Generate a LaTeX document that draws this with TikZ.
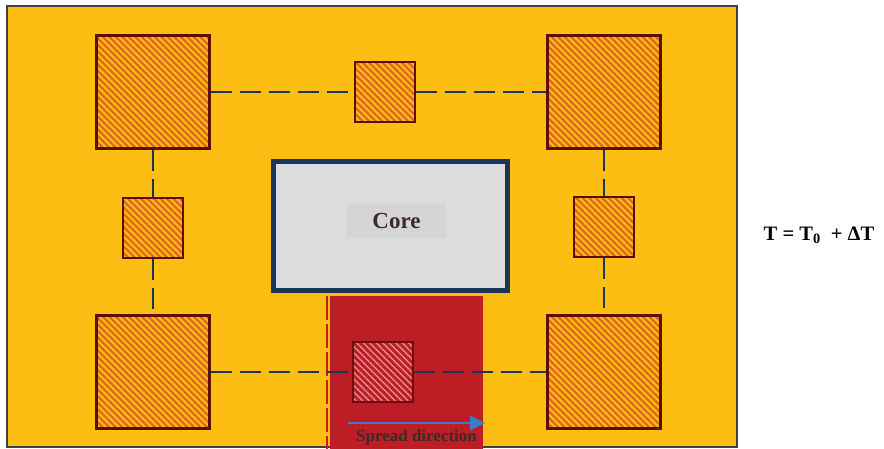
\documentclass[tikz,border=0pt]{standalone}
\usepackage{fontspec}
\setmainfont{Liberation Serif}
\usetikzlibrary{arrows.meta,patterns.meta}

\definecolor{boardyellow}{HTML}{FDBE14}
\definecolor{padedge}{HTML}{5E0F05}
\definecolor{padhatch}{HTML}{E0681E}
\definecolor{heatred}{HTML}{BD1E26}
\definecolor{hothatch}{HTML}{E68A8A}
\definecolor{hotedge}{HTML}{6E0E0E}
\definecolor{linknavy}{HTML}{1A3557}
\definecolor{corefill}{HTML}{DCDCDE}
\definecolor{labelfill}{HTML}{D5D5D7}
\definecolor{spreadblue}{HTML}{3B7DC4}
\definecolor{textdark}{HTML}{3A2A2A}

\tikzset{
    board/.style={
           rectangle,
           draw=black!75, line width=1.8pt,
           fill=boardyellow,
           inner sep=0pt,
           },
    pad/.style={
           rectangle,
           draw=padedge, line width=2.8pt,
           inner sep=0pt,
           preaction={fill=boardyellow},
           pattern={Lines[angle=-45,distance=4.6pt,line width=2.3pt]},
           pattern color=padhatch,
           },
    bigpad/.style={pad, minimum size=113pt},
    smallpad/.style={pad, minimum size=60pt},
    hotpad/.style={
           pad, minimum size=60pt,
           draw=hotedge,
           preaction={fill=heatred},
           pattern={Lines[angle=-45,distance=4.6pt,line width=1.4pt]},
           pattern color=hothatch,
           },
    heat/.style={
           rectangle,
           fill=heatred,
           inner sep=0pt,
           },
    core/.style={
           rectangle,
           draw=linknavy, line width=5pt,
           fill=corefill,
           inner sep=0pt,
           },
    link/.style={
           draw=linknavy, line width=2.8pt,
           dash pattern=on 21pt off 8pt,
           },
    heatedge/.style={
           draw=heatred!90!red, line width=2pt,
           dash pattern=on 24pt off 4pt,
           },
}

\begin{document}
\begin{tikzpicture}[x=1pt,y=-1pt]

       \useasboundingbox (0,0) rectangle (884,448);

       \node[board, minimum width=730pt, minimum height=441pt] (BOARD) at (372,226.5) {};

       \node[core, minimum width=234pt, minimum height=129pt] (CORE) at (390.5,226) {};

       \node[heat, minimum width=153pt, minimum height=155pt, anchor=north] (HEAT)
            at ([xshift=16pt,yshift=-2.5pt]CORE.south) {};

       \draw[heatedge] ([xshift=-3pt]HEAT.north west) -- ([xshift=-3pt]HEAT.south west) ;

       \node[bigpad] (TOPLEFT) at (153,92) {};
       \node[bigpad] (TOPRIGHT) at (604,92) {};
       \node[bigpad] (BOTLEFT) at (153,372) {};
       \node[bigpad] (BOTRIGHT) at (604,372) {};

       \node[smallpad] (TOPMID) at (385,92) {};
       \node[smallpad] (LEFTMID) at (153,228) {};
       \node[smallpad] (RIGHTMID) at (604,227) {};
       \node[hotpad] (HOTMID) at (383,372) {};

       \draw[link] (TOPLEFT.east) -- (TOPMID.west) ;
       \draw[link] (TOPMID.east) -- (TOPRIGHT.west) ;
       \draw[link] (BOTLEFT.east) -- (HOTMID.west) ;
       \draw[link] (HOTMID.east) -- (BOTRIGHT.west) ;
       \draw[link] (TOPLEFT.south) -- (LEFTMID.north) ;
       \draw[link] (LEFTMID.south) -- (BOTLEFT.north) ;
       \draw[link] (TOPRIGHT.south) -- (RIGHTMID.north) ;
       \draw[link] (RIGHTMID.south) -- (BOTRIGHT.north) ;

       \node[core, draw=none, fill=labelfill, minimum width=99pt, minimum height=34pt] (CORELABEL)
            at ([xshift=6pt,yshift=5pt]CORE.center)
            {\fontsize{23}{26}\selectfont\bfseries\color{textdark}Core};

       \coordinate (SPREADSTART) at ([xshift=18pt,yshift=28pt]HEAT.south west) ;
       \coordinate (SPREADEND) at ([xshift=2pt,yshift=28pt]HEAT.south east) ;
       \draw[spreadblue, line width=2.6pt, -{Triangle[length=15pt,width=14pt]}] (SPREADSTART) -- (SPREADEND) ;

       \node[text=textdark, inner sep=0pt] (SPREAD) at ([xshift=10pt,yshift=13pt]HEAT.south)
            {\fontsize{17}{20}\selectfont\bfseries Spread direction};

       \node[inner sep=0pt] (EQ) at (819,235)
            {\fontsize{20.5}{24}\selectfont\bfseries T = T\textsubscript{0}\ \ + ΔT};

\end{tikzpicture}
\end{document}
